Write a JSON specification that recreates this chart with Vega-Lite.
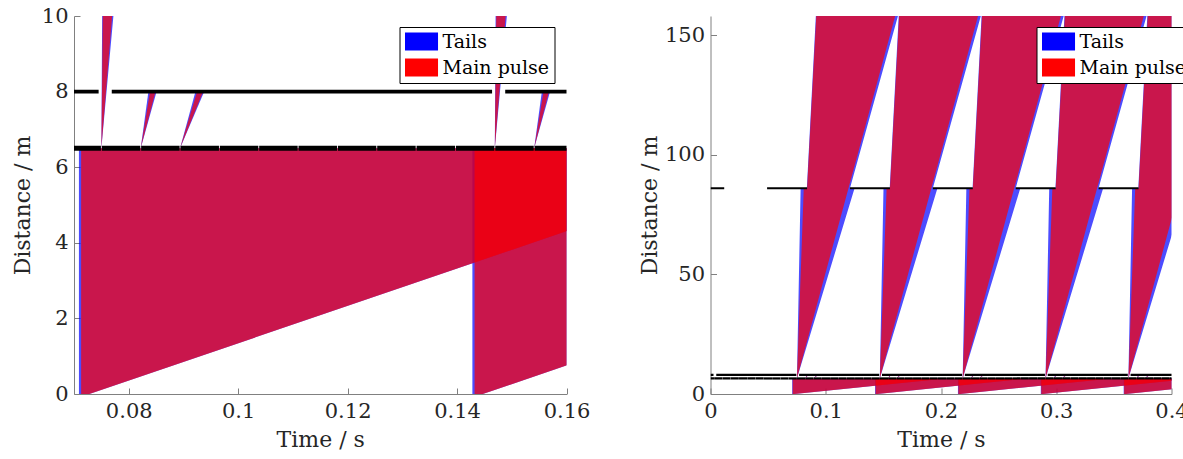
{
  "$schema": "https://vega.github.io/schema/vega-lite/v6.json",
  "padding": {"left": 11, "top": 5, "right": 0, "bottom": 0},
  "bounds": "flush",
  "spacing": 143.5,
  "config": {
    "font": "DejaVu Serif",
    "view": {"stroke": null},
    "axis": {
      "grid": false,
      "domainColor": "#808080",
      "tickColor": "#808080",
      "labelColor": "#262626",
      "titleColor": "#262626",
      "labelFont": "DejaVu Serif",
      "titleFont": "DejaVu Serif",
      "labelFontSize": 21,
      "titleFontSize": 22,
      "titleFontWeight": "normal",
      "tickSize": -6,
      "labelPadding": 12,
      "labelFlush": false,
      "labelOverlap": false,
      "format": "~r"
    },
    "legend": {
      "title": null,
      "orient": "none",
      "legendY": 11,
      "symbolType": "M-1,-1H2.67V1H-1Z",
      "symbolSize": 324,
      "symbolOpacity": 1,
      "symbolStrokeWidth": 0,
      "labelFont": "DejaVu Serif",
      "labelFontSize": 19,
      "labelColor": "black",
      "labelOffset": 19,
      "rowPadding": 6,
      "strokeColor": "black",
      "fillColor": "white",
      "padding": 5
    }
  },
  "datasets": {
    "polys": [
      {"p": "S0T", "kind": "Tails", "i": 0, "t": 0.0709, "d": 0},
      {"p": "S0T", "kind": "Tails", "i": 1, "t": 0.0709, "d": 6.5},
      {"p": "S0T", "kind": "Tails", "i": 2, "t": 0.2044, "d": 6.5},
      {"p": "S0T", "kind": "Tails", "i": 3, "t": 0.0728, "d": 0},
      {"p": "S0M", "kind": "Main pulse", "i": 0, "t": 0.0713, "d": 0},
      {"p": "S0M", "kind": "Main pulse", "i": 1, "t": 0.0713, "d": 6.5},
      {"p": "S0M", "kind": "Main pulse", "i": 2, "t": 0.2044, "d": 6.5},
      {"p": "S0M", "kind": "Main pulse", "i": 3, "t": 0.0728, "d": 0},
      {"p": "A0T", "kind": "Tails", "i": 0, "t": 0.0750, "d": 6.5},
      {"p": "A0T", "kind": "Tails", "i": 1, "t": 0.0782, "d": 86},
      {"p": "A0T", "kind": "Tails", "i": 2, "t": 0.0836, "d": 86},
      {"p": "A0T", "kind": "Tails", "i": 3, "t": 0.0927, "d": 170},
      {"p": "A0T", "kind": "Tails", "i": 4, "t": 0.1696, "d": 170},
      {"p": "A0T", "kind": "Tails", "i": 5, "t": 0.1210, "d": 86},
      {"p": "A0T", "kind": "Tails", "i": 6, "t": 0.1250, "d": 86},
      {"p": "A0M", "kind": "Main pulse", "i": 0, "t": 0.0750, "d": 6.5},
      {"p": "A0M", "kind": "Main pulse", "i": 1, "t": 0.0809, "d": 86},
      {"p": "A0M", "kind": "Main pulse", "i": 2, "t": 0.0838, "d": 86},
      {"p": "A0M", "kind": "Main pulse", "i": 3, "t": 0.0931, "d": 170},
      {"p": "A0M", "kind": "Main pulse", "i": 4, "t": 0.1670, "d": 170},
      {"p": "B0T", "kind": "Tails", "i": 0, "t": 0.08219, "d": 6.5},
      {"p": "B0T", "kind": "Tails", "i": 1, "t": 0.0836, "d": 8},
      {"p": "B0T", "kind": "Tails", "i": 2, "t": 0.0851, "d": 8},
      {"p": "B0M", "kind": "Main pulse", "i": 0, "t": 0.08219, "d": 6.5},
      {"p": "B0M", "kind": "Main pulse", "i": 1, "t": 0.0839, "d": 8},
      {"p": "B0M", "kind": "Main pulse", "i": 2, "t": 0.0849, "d": 8},
      {"p": "C0T", "kind": "Tails", "i": 0, "t": 0.08938, "d": 6.5},
      {"p": "C0T", "kind": "Tails", "i": 1, "t": 0.0922, "d": 8},
      {"p": "C0T", "kind": "Tails", "i": 2, "t": 0.0938, "d": 8},
      {"p": "C0M", "kind": "Main pulse", "i": 0, "t": 0.08938, "d": 6.5},
      {"p": "C0M", "kind": "Main pulse", "i": 1, "t": 0.0925, "d": 8},
      {"p": "C0M", "kind": "Main pulse", "i": 2, "t": 0.0936, "d": 8},

      {"p": "S1T", "kind": "Tails", "i": 0, "t": 0.1428, "d": 0},
      {"p": "S1T", "kind": "Tails", "i": 1, "t": 0.1428, "d": 6.5},
      {"p": "S1T", "kind": "Tails", "i": 2, "t": 0.2763, "d": 6.5},
      {"p": "S1T", "kind": "Tails", "i": 3, "t": 0.1447, "d": 0},
      {"p": "S1M", "kind": "Main pulse", "i": 0, "t": 0.1432, "d": 0},
      {"p": "S1M", "kind": "Main pulse", "i": 1, "t": 0.1432, "d": 6.5},
      {"p": "S1M", "kind": "Main pulse", "i": 2, "t": 0.2763, "d": 6.5},
      {"p": "S1M", "kind": "Main pulse", "i": 3, "t": 0.1447, "d": 0},
      {"p": "A1T", "kind": "Tails", "i": 0, "t": 0.1469, "d": 6.5},
      {"p": "A1T", "kind": "Tails", "i": 1, "t": 0.1501, "d": 86},
      {"p": "A1T", "kind": "Tails", "i": 2, "t": 0.1555, "d": 86},
      {"p": "A1T", "kind": "Tails", "i": 3, "t": 0.1646, "d": 170},
      {"p": "A1T", "kind": "Tails", "i": 4, "t": 0.2415, "d": 170},
      {"p": "A1T", "kind": "Tails", "i": 5, "t": 0.1929, "d": 86},
      {"p": "A1T", "kind": "Tails", "i": 6, "t": 0.1969, "d": 86},
      {"p": "A1M", "kind": "Main pulse", "i": 0, "t": 0.1469, "d": 6.5},
      {"p": "A1M", "kind": "Main pulse", "i": 1, "t": 0.1528, "d": 86},
      {"p": "A1M", "kind": "Main pulse", "i": 2, "t": 0.1557, "d": 86},
      {"p": "A1M", "kind": "Main pulse", "i": 3, "t": 0.1650, "d": 170},
      {"p": "A1M", "kind": "Main pulse", "i": 4, "t": 0.2389, "d": 170},
      {"p": "B1T", "kind": "Tails", "i": 0, "t": 0.15409, "d": 6.5},
      {"p": "B1T", "kind": "Tails", "i": 1, "t": 0.1555, "d": 8},
      {"p": "B1T", "kind": "Tails", "i": 2, "t": 0.1570, "d": 8},
      {"p": "B1M", "kind": "Main pulse", "i": 0, "t": 0.15409, "d": 6.5},
      {"p": "B1M", "kind": "Main pulse", "i": 1, "t": 0.1558, "d": 8},
      {"p": "B1M", "kind": "Main pulse", "i": 2, "t": 0.1568, "d": 8},
      {"p": "C1T", "kind": "Tails", "i": 0, "t": 0.16128, "d": 6.5},
      {"p": "C1T", "kind": "Tails", "i": 1, "t": 0.1641, "d": 8},
      {"p": "C1T", "kind": "Tails", "i": 2, "t": 0.1657, "d": 8},
      {"p": "C1M", "kind": "Main pulse", "i": 0, "t": 0.16128, "d": 6.5},
      {"p": "C1M", "kind": "Main pulse", "i": 1, "t": 0.1644, "d": 8},
      {"p": "C1M", "kind": "Main pulse", "i": 2, "t": 0.1655, "d": 8},

      {"p": "S2T", "kind": "Tails", "i": 0, "t": 0.2147, "d": 0},
      {"p": "S2T", "kind": "Tails", "i": 1, "t": 0.2147, "d": 6.5},
      {"p": "S2T", "kind": "Tails", "i": 2, "t": 0.3482, "d": 6.5},
      {"p": "S2T", "kind": "Tails", "i": 3, "t": 0.2166, "d": 0},
      {"p": "S2M", "kind": "Main pulse", "i": 0, "t": 0.2151, "d": 0},
      {"p": "S2M", "kind": "Main pulse", "i": 1, "t": 0.2151, "d": 6.5},
      {"p": "S2M", "kind": "Main pulse", "i": 2, "t": 0.3482, "d": 6.5},
      {"p": "S2M", "kind": "Main pulse", "i": 3, "t": 0.2166, "d": 0},
      {"p": "A2T", "kind": "Tails", "i": 0, "t": 0.2188, "d": 6.5},
      {"p": "A2T", "kind": "Tails", "i": 1, "t": 0.2220, "d": 86},
      {"p": "A2T", "kind": "Tails", "i": 2, "t": 0.2274, "d": 86},
      {"p": "A2T", "kind": "Tails", "i": 3, "t": 0.2365, "d": 170},
      {"p": "A2T", "kind": "Tails", "i": 4, "t": 0.3134, "d": 170},
      {"p": "A2T", "kind": "Tails", "i": 5, "t": 0.2648, "d": 86},
      {"p": "A2T", "kind": "Tails", "i": 6, "t": 0.2688, "d": 86},
      {"p": "A2M", "kind": "Main pulse", "i": 0, "t": 0.2188, "d": 6.5},
      {"p": "A2M", "kind": "Main pulse", "i": 1, "t": 0.2247, "d": 86},
      {"p": "A2M", "kind": "Main pulse", "i": 2, "t": 0.2276, "d": 86},
      {"p": "A2M", "kind": "Main pulse", "i": 3, "t": 0.2369, "d": 170},
      {"p": "A2M", "kind": "Main pulse", "i": 4, "t": 0.3108, "d": 170},
      {"p": "B2T", "kind": "Tails", "i": 0, "t": 0.22599, "d": 6.5},
      {"p": "B2T", "kind": "Tails", "i": 1, "t": 0.2274, "d": 8},
      {"p": "B2T", "kind": "Tails", "i": 2, "t": 0.2289, "d": 8},
      {"p": "B2M", "kind": "Main pulse", "i": 0, "t": 0.22599, "d": 6.5},
      {"p": "B2M", "kind": "Main pulse", "i": 1, "t": 0.2277, "d": 8},
      {"p": "B2M", "kind": "Main pulse", "i": 2, "t": 0.2287, "d": 8},
      {"p": "C2T", "kind": "Tails", "i": 0, "t": 0.23318, "d": 6.5},
      {"p": "C2T", "kind": "Tails", "i": 1, "t": 0.2360, "d": 8},
      {"p": "C2T", "kind": "Tails", "i": 2, "t": 0.2376, "d": 8},
      {"p": "C2M", "kind": "Main pulse", "i": 0, "t": 0.23318, "d": 6.5},
      {"p": "C2M", "kind": "Main pulse", "i": 1, "t": 0.2363, "d": 8},
      {"p": "C2M", "kind": "Main pulse", "i": 2, "t": 0.2374, "d": 8},

      {"p": "S3T", "kind": "Tails", "i": 0, "t": 0.2866, "d": 0},
      {"p": "S3T", "kind": "Tails", "i": 1, "t": 0.2866, "d": 6.5},
      {"p": "S3T", "kind": "Tails", "i": 2, "t": 0.4201, "d": 6.5},
      {"p": "S3T", "kind": "Tails", "i": 3, "t": 0.2885, "d": 0},
      {"p": "S3M", "kind": "Main pulse", "i": 0, "t": 0.2870, "d": 0},
      {"p": "S3M", "kind": "Main pulse", "i": 1, "t": 0.2870, "d": 6.5},
      {"p": "S3M", "kind": "Main pulse", "i": 2, "t": 0.4201, "d": 6.5},
      {"p": "S3M", "kind": "Main pulse", "i": 3, "t": 0.2885, "d": 0},
      {"p": "A3T", "kind": "Tails", "i": 0, "t": 0.2907, "d": 6.5},
      {"p": "A3T", "kind": "Tails", "i": 1, "t": 0.2939, "d": 86},
      {"p": "A3T", "kind": "Tails", "i": 2, "t": 0.2993, "d": 86},
      {"p": "A3T", "kind": "Tails", "i": 3, "t": 0.3084, "d": 170},
      {"p": "A3T", "kind": "Tails", "i": 4, "t": 0.3853, "d": 170},
      {"p": "A3T", "kind": "Tails", "i": 5, "t": 0.3367, "d": 86},
      {"p": "A3T", "kind": "Tails", "i": 6, "t": 0.3407, "d": 86},
      {"p": "A3M", "kind": "Main pulse", "i": 0, "t": 0.2907, "d": 6.5},
      {"p": "A3M", "kind": "Main pulse", "i": 1, "t": 0.2966, "d": 86},
      {"p": "A3M", "kind": "Main pulse", "i": 2, "t": 0.2995, "d": 86},
      {"p": "A3M", "kind": "Main pulse", "i": 3, "t": 0.3088, "d": 170},
      {"p": "A3M", "kind": "Main pulse", "i": 4, "t": 0.3827, "d": 170},
      {"p": "B3T", "kind": "Tails", "i": 0, "t": 0.29789, "d": 6.5},
      {"p": "B3T", "kind": "Tails", "i": 1, "t": 0.2993, "d": 8},
      {"p": "B3T", "kind": "Tails", "i": 2, "t": 0.3008, "d": 8},
      {"p": "B3M", "kind": "Main pulse", "i": 0, "t": 0.29789, "d": 6.5},
      {"p": "B3M", "kind": "Main pulse", "i": 1, "t": 0.2996, "d": 8},
      {"p": "B3M", "kind": "Main pulse", "i": 2, "t": 0.3006, "d": 8},
      {"p": "C3T", "kind": "Tails", "i": 0, "t": 0.30508, "d": 6.5},
      {"p": "C3T", "kind": "Tails", "i": 1, "t": 0.3079, "d": 8},
      {"p": "C3T", "kind": "Tails", "i": 2, "t": 0.3095, "d": 8},
      {"p": "C3M", "kind": "Main pulse", "i": 0, "t": 0.30508, "d": 6.5},
      {"p": "C3M", "kind": "Main pulse", "i": 1, "t": 0.3082, "d": 8},
      {"p": "C3M", "kind": "Main pulse", "i": 2, "t": 0.3093, "d": 8},

      {"p": "S4T", "kind": "Tails", "i": 0, "t": 0.3585, "d": 0},
      {"p": "S4T", "kind": "Tails", "i": 1, "t": 0.3585, "d": 6.5},
      {"p": "S4T", "kind": "Tails", "i": 2, "t": 0.4920, "d": 6.5},
      {"p": "S4T", "kind": "Tails", "i": 3, "t": 0.3604, "d": 0},
      {"p": "S4M", "kind": "Main pulse", "i": 0, "t": 0.3589, "d": 0},
      {"p": "S4M", "kind": "Main pulse", "i": 1, "t": 0.3589, "d": 6.5},
      {"p": "S4M", "kind": "Main pulse", "i": 2, "t": 0.4920, "d": 6.5},
      {"p": "S4M", "kind": "Main pulse", "i": 3, "t": 0.3604, "d": 0},
      {"p": "A4T", "kind": "Tails", "i": 0, "t": 0.3626, "d": 6.5},
      {"p": "A4T", "kind": "Tails", "i": 1, "t": 0.3658, "d": 86},
      {"p": "A4T", "kind": "Tails", "i": 2, "t": 0.3712, "d": 86},
      {"p": "A4T", "kind": "Tails", "i": 3, "t": 0.3803, "d": 170},
      {"p": "A4T", "kind": "Tails", "i": 4, "t": 0.4572, "d": 170},
      {"p": "A4T", "kind": "Tails", "i": 5, "t": 0.4086, "d": 86},
      {"p": "A4T", "kind": "Tails", "i": 6, "t": 0.4126, "d": 86},
      {"p": "A4M", "kind": "Main pulse", "i": 0, "t": 0.3626, "d": 6.5},
      {"p": "A4M", "kind": "Main pulse", "i": 1, "t": 0.3685, "d": 86},
      {"p": "A4M", "kind": "Main pulse", "i": 2, "t": 0.3714, "d": 86},
      {"p": "A4M", "kind": "Main pulse", "i": 3, "t": 0.3807, "d": 170},
      {"p": "A4M", "kind": "Main pulse", "i": 4, "t": 0.4546, "d": 170},
      {"p": "B4T", "kind": "Tails", "i": 0, "t": 0.36979, "d": 6.5},
      {"p": "B4T", "kind": "Tails", "i": 1, "t": 0.3712, "d": 8},
      {"p": "B4T", "kind": "Tails", "i": 2, "t": 0.3727, "d": 8},
      {"p": "B4M", "kind": "Main pulse", "i": 0, "t": 0.36979, "d": 6.5},
      {"p": "B4M", "kind": "Main pulse", "i": 1, "t": 0.3715, "d": 8},
      {"p": "B4M", "kind": "Main pulse", "i": 2, "t": 0.3725, "d": 8},
      {"p": "C4T", "kind": "Tails", "i": 0, "t": 0.37698, "d": 6.5},
      {"p": "C4T", "kind": "Tails", "i": 1, "t": 0.3798, "d": 8},
      {"p": "C4T", "kind": "Tails", "i": 2, "t": 0.3814, "d": 8},
      {"p": "C4M", "kind": "Main pulse", "i": 0, "t": 0.37698, "d": 6.5},
      {"p": "C4M", "kind": "Main pulse", "i": 1, "t": 0.3801, "d": 8},
      {"p": "C4M", "kind": "Main pulse", "i": 2, "t": 0.3812, "d": 8}
    ],
    "choppers": [
      {"ch": "A", "d": 6.5, "t1": 0, "t2": 0.00302},
      {"ch": "A", "d": 6.5, "t1": 0.00318, "t2": 0.01021},
      {"ch": "A", "d": 6.5, "t1": 0.01037, "t2": 0.01740},
      {"ch": "A", "d": 6.5, "t1": 0.01756, "t2": 0.02459},
      {"ch": "A", "d": 6.5, "t1": 0.02475, "t2": 0.03178},
      {"ch": "A", "d": 6.5, "t1": 0.03194, "t2": 0.03897},
      {"ch": "A", "d": 6.5, "t1": 0.03913, "t2": 0.04616},
      {"ch": "A", "d": 6.5, "t1": 0.04632, "t2": 0.05335},
      {"ch": "A", "d": 6.5, "t1": 0.05351, "t2": 0.06054},
      {"ch": "A", "d": 6.5, "t1": 0.06070, "t2": 0.06773},
      {"ch": "A", "d": 6.5, "t1": 0.06789, "t2": 0.07492},
      {"ch": "A", "d": 6.5, "t1": 0.07508, "t2": 0.08211},
      {"ch": "A", "d": 6.5, "t1": 0.08227, "t2": 0.08930},
      {"ch": "A", "d": 6.5, "t1": 0.08946, "t2": 0.09649},
      {"ch": "A", "d": 6.5, "t1": 0.09665, "t2": 0.10368},
      {"ch": "A", "d": 6.5, "t1": 0.10384, "t2": 0.11087},
      {"ch": "A", "d": 6.5, "t1": 0.11103, "t2": 0.11806},
      {"ch": "A", "d": 6.5, "t1": 0.11822, "t2": 0.12525},
      {"ch": "A", "d": 6.5, "t1": 0.12541, "t2": 0.13244},
      {"ch": "A", "d": 6.5, "t1": 0.13260, "t2": 0.13963},
      {"ch": "A", "d": 6.5, "t1": 0.13979, "t2": 0.14682},
      {"ch": "A", "d": 6.5, "t1": 0.14698, "t2": 0.15401},
      {"ch": "A", "d": 6.5, "t1": 0.15417, "t2": 0.16120},
      {"ch": "A", "d": 6.5, "t1": 0.16136, "t2": 0.16839},
      {"ch": "A", "d": 6.5, "t1": 0.16855, "t2": 0.17558},
      {"ch": "A", "d": 6.5, "t1": 0.17574, "t2": 0.18277},
      {"ch": "A", "d": 6.5, "t1": 0.18293, "t2": 0.18996},
      {"ch": "A", "d": 6.5, "t1": 0.19012, "t2": 0.19715},
      {"ch": "A", "d": 6.5, "t1": 0.19731, "t2": 0.20434},
      {"ch": "A", "d": 6.5, "t1": 0.20450, "t2": 0.21153},
      {"ch": "A", "d": 6.5, "t1": 0.21169, "t2": 0.21872},
      {"ch": "A", "d": 6.5, "t1": 0.21888, "t2": 0.22591},
      {"ch": "A", "d": 6.5, "t1": 0.22607, "t2": 0.23310},
      {"ch": "A", "d": 6.5, "t1": 0.23326, "t2": 0.24029},
      {"ch": "A", "d": 6.5, "t1": 0.24045, "t2": 0.24748},
      {"ch": "A", "d": 6.5, "t1": 0.24764, "t2": 0.25467},
      {"ch": "A", "d": 6.5, "t1": 0.25483, "t2": 0.26186},
      {"ch": "A", "d": 6.5, "t1": 0.26202, "t2": 0.26905},
      {"ch": "A", "d": 6.5, "t1": 0.26921, "t2": 0.27624},
      {"ch": "A", "d": 6.5, "t1": 0.27640, "t2": 0.28343},
      {"ch": "A", "d": 6.5, "t1": 0.28359, "t2": 0.29062},
      {"ch": "A", "d": 6.5, "t1": 0.29078, "t2": 0.29781},
      {"ch": "A", "d": 6.5, "t1": 0.29797, "t2": 0.30500},
      {"ch": "A", "d": 6.5, "t1": 0.30516, "t2": 0.31219},
      {"ch": "A", "d": 6.5, "t1": 0.31235, "t2": 0.31938},
      {"ch": "A", "d": 6.5, "t1": 0.31954, "t2": 0.32657},
      {"ch": "A", "d": 6.5, "t1": 0.32673, "t2": 0.33376},
      {"ch": "A", "d": 6.5, "t1": 0.33392, "t2": 0.34095},
      {"ch": "A", "d": 6.5, "t1": 0.34111, "t2": 0.34814},
      {"ch": "A", "d": 6.5, "t1": 0.34830, "t2": 0.35533},
      {"ch": "A", "d": 6.5, "t1": 0.35549, "t2": 0.36252},
      {"ch": "A", "d": 6.5, "t1": 0.36268, "t2": 0.36971},
      {"ch": "A", "d": 6.5, "t1": 0.36987, "t2": 0.37690},
      {"ch": "A", "d": 6.5, "t1": 0.37706, "t2": 0.38409},
      {"ch": "A", "d": 6.5, "t1": 0.38425, "t2": 0.39128},
      {"ch": "A", "d": 6.5, "t1": 0.39144, "t2": 0.39847},
      {"ch": "A", "d": 6.5, "t1": 0.39863, "t2": 0.40566},
      {"ch": "B", "d": 8, "t1": 0, "t2": 0.0026},
      {"ch": "B", "d": 8, "t1": 0.0050, "t2": 0.0745},
      {"ch": "B", "d": 8, "t1": 0.0769, "t2": 0.1464},
      {"ch": "B", "d": 8, "t1": 0.1488, "t2": 0.2183},
      {"ch": "B", "d": 8, "t1": 0.2207, "t2": 0.2902},
      {"ch": "B", "d": 8, "t1": 0.2926, "t2": 0.3621},
      {"ch": "B", "d": 8, "t1": 0.3645, "t2": 0.41},
      {"ch": "C", "d": 86, "t1": 0, "t2": 0.0119},
      {"ch": "C", "d": 86, "t1": 0.0491, "t2": 0.0838},
      {"ch": "C", "d": 86, "t1": 0.1210, "t2": 0.1557},
      {"ch": "C", "d": 86, "t1": 0.1929, "t2": 0.2276},
      {"ch": "C", "d": 86, "t1": 0.2648, "t2": 0.2995},
      {"ch": "C", "d": 86, "t1": 0.3367, "t2": 0.3714},
      {"ch": "C", "d": 86, "t1": 0.4086, "t2": 0.41}
    ]
  },
  "resolve": {
    "scale": {"x": "independent", "y": "independent", "color": "independent", "strokeWidth": "independent"},
    "legend": {"color": "independent"}
  },
  "hconcat": [
    {
      "width": 492.5,
      "height": 378,
      "layer": [
        {
          "data": {"name": "polys"},
          "transform": [{"filter": "datum.kind === 'Tails'"}],
          "mark": {"type": "line", "filled": true, "opacity": 0.7, "strokeWidth": 0, "clip": true},
          "encoding": {
            "x": {"field": "t", "type": "quantitative", "title": "Time / s", "scale": {"domain": [0.07, 0.16], "nice": false, "zero": false}, "axis": {"values": [0.08, 0.1, 0.12, 0.14, 0.16], "titlePadding": 8}},
            "y": {"field": "d", "type": "quantitative", "title": "Distance / m", "scale": {"domain": [0, 10], "nice": false}, "axis": {"values": [0, 2, 4, 6, 8, 10], "titlePadding": 6.5}},
            "detail": {"field": "p"},
            "order": {"field": "i", "type": "quantitative"},
            "color": {"field": "kind", "type": "nominal", "scale": {"domain": ["Tails", "Main pulse"], "range": ["#0000ff", "#ff0000"]}, "legend": {"legendX": 325.5}}
          }
        },
        {
          "data": {"name": "polys"},
          "transform": [{"filter": "datum.kind === 'Main pulse'"}],
          "mark": {"type": "line", "filled": true, "opacity": 0.7, "strokeWidth": 0, "clip": true},
          "encoding": {
            "x": {"field": "t", "type": "quantitative", "title": "Time / s"},
            "y": {"field": "d", "type": "quantitative", "title": "Distance / m"},
            "detail": {"field": "p"},
            "order": {"field": "i", "type": "quantitative"},
            "color": {"field": "kind", "type": "nominal"}
          }
        },
        {
          "data": {"name": "choppers"},
          "mark": {"type": "rule", "color": "black", "clip": true},
          "encoding": {
            "x": {"field": "t1", "type": "quantitative", "title": "Time / s"},
            "x2": {"field": "t2"},
            "y": {"field": "d", "type": "quantitative", "title": "Distance / m"},
            "strokeWidth": {"field": "ch", "type": "nominal", "scale": {"domain": ["A", "B", "C"], "range": [5, 2.5, 2.5]}, "legend": null}
          }
        }
      ]
    },
    {
      "width": 461,
      "height": 378,
      "layer": [
        {
          "data": {"name": "polys"},
          "transform": [{"filter": "datum.kind === 'Tails'"}],
          "mark": {"type": "line", "filled": true, "opacity": 0.7, "strokeWidth": 0, "clip": true},
          "encoding": {
            "x": {"field": "t", "type": "quantitative", "title": "Time / s", "scale": {"domain": [0, 0.4], "nice": false}, "axis": {"values": [0, 0.1, 0.2, 0.3, 0.4], "titlePadding": 8}},
            "y": {"field": "d", "type": "quantitative", "title": "Distance / m", "scale": {"domain": [0, 158], "nice": false}, "axis": {"values": [0, 50, 100, 150], "titlePadding": 3}},
            "detail": {"field": "p"},
            "order": {"field": "i", "type": "quantitative"},
            "color": {"field": "kind", "type": "nominal", "scale": {"domain": ["Tails", "Main pulse"], "range": ["#0000ff", "#ff0000"]}, "legend": {"legendX": 326}}
          }
        },
        {
          "data": {"name": "polys"},
          "transform": [{"filter": "datum.kind === 'Main pulse'"}],
          "mark": {"type": "line", "filled": true, "opacity": 0.7, "strokeWidth": 0, "clip": true},
          "encoding": {
            "x": {"field": "t", "type": "quantitative", "title": "Time / s"},
            "y": {"field": "d", "type": "quantitative", "title": "Distance / m"},
            "detail": {"field": "p"},
            "order": {"field": "i", "type": "quantitative"},
            "color": {"field": "kind", "type": "nominal"}
          }
        },
        {
          "data": {"name": "choppers"},
          "mark": {"type": "rule", "color": "black", "clip": true},
          "encoding": {
            "x": {"field": "t1", "type": "quantitative", "title": "Time / s"},
            "x2": {"field": "t2"},
            "y": {"field": "d", "type": "quantitative", "title": "Distance / m"},
            "strokeWidth": {"field": "ch", "type": "nominal", "scale": {"domain": ["A", "B", "C"], "range": [2.2, 2, 2.2]}, "legend": null}
          }
        }
      ]
    }
  ]
}
